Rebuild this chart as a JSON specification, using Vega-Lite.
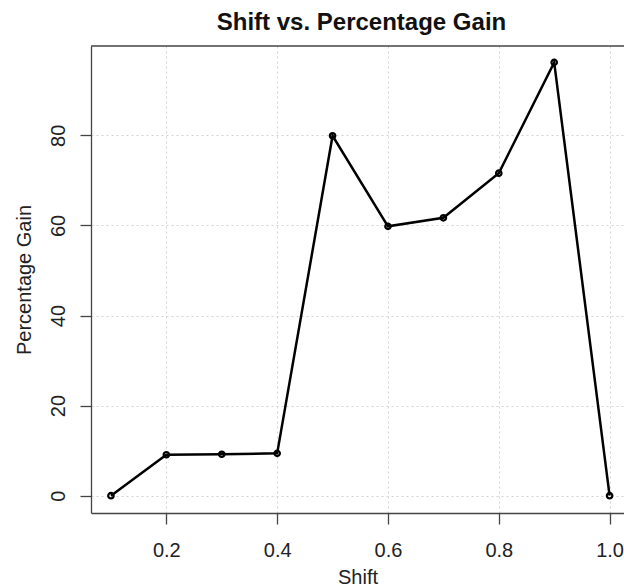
{
  "$schema": "https://vega.github.io/schema/vega-lite/v6.json",
  "autosize": "none",
  "padding": {"left": 91, "top": 46, "right": 0, "bottom": 74},
  "width": 533,
  "height": 467,
  "background": "white",
  "config": {
    "view": {"stroke": null},
    "font": "Liberation Sans",
    "axis": {
      "labelFont": "Liberation Sans",
      "titleFont": "Liberation Sans",
      "labelFontSize": 20,
      "titleFontSize": 20,
      "titleFontWeight": "normal",
      "labelColor": "#222",
      "titleColor": "#222",
      "domainColor": "#444",
      "domainWidth": 1.3,
      "tickColor": "#444",
      "tickWidth": 1.3,
      "tickSize": 11,
      "gridColor": "#d3d3d3",
      "gridDash": [2, 3],
      "gridWidth": 1
    }
  },
  "title": {
    "text": "Shift vs. Percentage Gain",
    "font": "Liberation Sans",
    "fontSize": 24,
    "fontWeight": "bold",
    "color": "#111",
    "anchor": "middle",
    "baseline": "alphabetic",
    "offset": 18,
    "dx": 4,
    "dy": 27
  },
  "data": {
    "values": [
      {"shift": 0.1, "gain": 0},
      {"shift": 0.2, "gain": 9.1},
      {"shift": 0.3, "gain": 9.2},
      {"shift": 0.4, "gain": 9.4},
      {"shift": 0.5, "gain": 79.9},
      {"shift": 0.6, "gain": 59.8},
      {"shift": 0.7, "gain": 61.7},
      {"shift": 0.8, "gain": 71.6},
      {"shift": 0.9, "gain": 96.2},
      {"shift": 1.0, "gain": 0}
    ]
  },
  "encoding": {
    "x": {
      "field": "shift",
      "type": "quantitative",
      "scale": {"domain": [0.064, 1.026], "nice": false, "zero": false},
      "axis": {
        "title": "Shift",
        "values": [0.2, 0.4, 0.6, 0.8, 1.0],
        "format": ".1f",
        "labelPadding": 16,
        "labelFlush": false,
        "titlePadding": 7
      }
    },
    "y": {
      "field": "gain",
      "type": "quantitative",
      "scale": {"domain": [-3.84, 99.84], "nice": false, "zero": false},
      "axis": {
        "title": "Percentage Gain",
        "values": [0, 20, 40, 60, 80],
        "labelAngle": 270,
        "labelAlign": "center",
        "labelBaseline": "bottom",
        "labelPadding": 12,
        "titlePadding": 14
      }
    }
  },
  "layer": [
    {
      "mark": {"type": "line", "color": "black", "strokeWidth": 2.5}
    },
    {
      "mark": {"type": "point", "shape": "circle", "filled": false, "color": "black", "strokeWidth": 2.2, "size": 30, "opacity": 1}
    },
    {
      "data": {"values": [{"top": 99.84}]},
      "mark": {"type": "rule", "color": "#444", "strokeWidth": 1.3},
      "encoding": {
        "y": {"field": "top", "type": "quantitative"},
        "x": null
      }
    }
  ]
}
